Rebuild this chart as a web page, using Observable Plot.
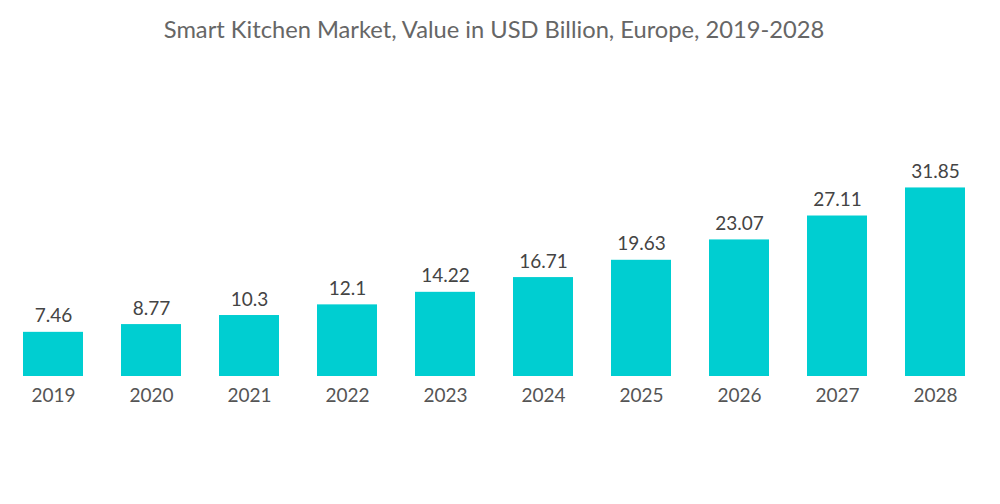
<!DOCTYPE html>
<html>
<head>
<meta charset="utf-8">
<script src="https://cdn.jsdelivr.net/npm/d3@7"></script>
<script src="https://cdn.jsdelivr.net/npm/@observablehq/plot@0.6"></script>
<style>
  html, body { margin: 0; padding: 0; background: #fff; }
  #title { height: 60px; line-height: 58px; text-align: center; font-family: Lato, sans-serif; font-size: 23.7px; color: #666; font-weight: 400; padding-left: 0; margin-left: -12px; }
  #chart svg { display: block; }
</style>
</head>
<body>
<div id="title">Smart Kitchen Market, Value in USD Billion, Europe, 2019-2028</div>
<div id="chart"></div>
<script>
const years = ["2019","2020","2021","2022","2023","2024","2025","2026","2027","2028"];
const values = [7.46, 8.77, 10.3, 12.1, 14.22, 16.71, 19.63, 23.07, 27.11, 31.85];
const labels = ["7.46","8.77","10.3","12.1","14.22","16.71","19.63","23.07","27.11","31.85"];

const data = years.map((y, i) => ({year: y, value: values[i], label: labels[i]}));

const chart = Plot.plot({
  width: 1000,
  height: 444,
  marginLeft: 12,
  marginRight: 25,
  marginTop: 20,
  marginBottom: 128,
  style: {fontFamily: "Lato, sans-serif", fontSize: "19px", color: "#555", background: "#fff"},
  x: {domain: years, paddingInner: 0.39, paddingOuter: 0.1, label: null},
  y: {domain: [0, 50], axis: null},
  marks: [
    Plot.barY(data, {x: "year", y: "value", fill: "#00ced1"}),
    Plot.text(data, {x: "year", y: "value", text: "label", lineAnchor: "bottom", dy: -10, fill: "#444", fontSize: 19}),
    Plot.axisX({tickSize: 0, tickPadding: 12, fontSize: 19, fill: "#555", label: null})
  ]
});
document.getElementById("chart").appendChild(chart);
</script>
</body>
</html>
